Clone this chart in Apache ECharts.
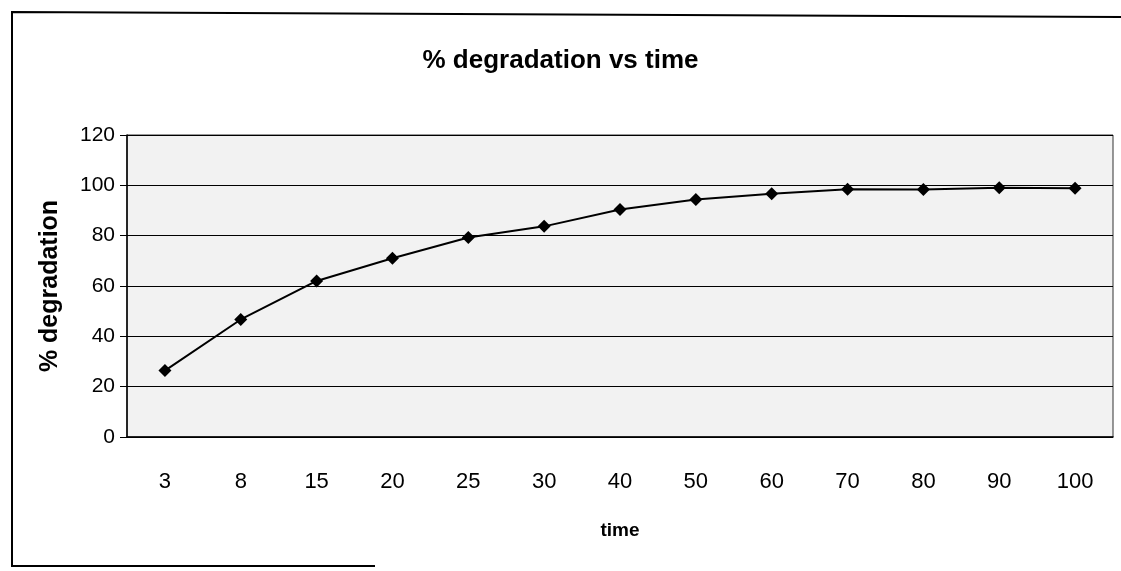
<!DOCTYPE html>
<html>
<head>
<meta charset="utf-8">
<script src="https://cdn.jsdelivr.net/npm/echarts@6/dist/echarts.min.js"></script>
<style>
  html, body { margin: 0; padding: 0; background: #fff; }
  #chart { width: 1121px; height: 571px; }
</style>
</head>
<body>
<div id="chart"></div>
<script>
// time points (categories) and % degradation
var times = ['3', '8', '15', '20', '25', '30', '40', '50', '60', '70', '80', '90', '100'];
var degradation = [26.4, 46.7, 62, 71, 79.3, 83.7, 90.4, 94.4, 96.7, 98.4, 98.3, 99, 98.8];

var chart = echarts.init(document.getElementById('chart'));
chart.setOption({
  animation: false,
  textStyle: { fontFamily: 'Liberation Sans, Arial, sans-serif' },
  title: {
    text: '% degradation vs time',
    left: 'center',
    top: 43,
    textStyle: { fontSize: 26, fontWeight: 'bold', color: '#000' }
  },
  // frame of the scanned page: left, top and part of the bottom edge
  graphic: [
    { type: 'polyline', silent: true,
      shape: { points: [[375, 566], [12, 566], [12, 12], [1121, 17]] },
      style: { fill: null, stroke: '#000', lineWidth: 2 } }
  ],
  grid: {
    left: 127, right: 8, top: 135, bottom: 134,
    show: true,
    backgroundColor: '#f2f2f2',
    borderColor: '#333',
    borderWidth: 1
  },
  xAxis: {
    type: 'category',
    data: times,
    boundaryGap: true,
    name: 'time',
    nameLocation: 'middle',
    nameGap: 84,
    nameTextStyle: { fontSize: 19, fontWeight: 'bold', color: '#000' },
    axisLine: { lineStyle: { color: '#000', width: 1.5 } },
    axisTick: { alignWithLabel: false, length: 8, lineStyle: { color: '#000' } },
    axisLabel: { fontSize: 22, color: '#000', margin: 34 }
  },
  yAxis: {
    type: 'value',
    min: 0, max: 120, interval: 20,
    name: '% degradation',
    nameLocation: 'middle',
    nameGap: 64,
    nameTextStyle: { fontSize: 25, fontWeight: 'bold', color: '#000' },
    axisLine: { show: true, lineStyle: { color: '#000', width: 1.5 } },
    axisTick: { show: true, length: 7, lineStyle: { color: '#000' } },
    axisLabel: { fontSize: 21, color: '#000', margin: 12 },
    splitLine: { show: true, lineStyle: { color: '#000', width: 1 } }
  },
  series: [{
    type: 'line',
    data: degradation,
    symbol: 'diamond',
    symbolSize: 13,
    itemStyle: { color: '#000' },
    lineStyle: { color: '#000', width: 2 }
  }]
});
</script>
</body>
</html>
